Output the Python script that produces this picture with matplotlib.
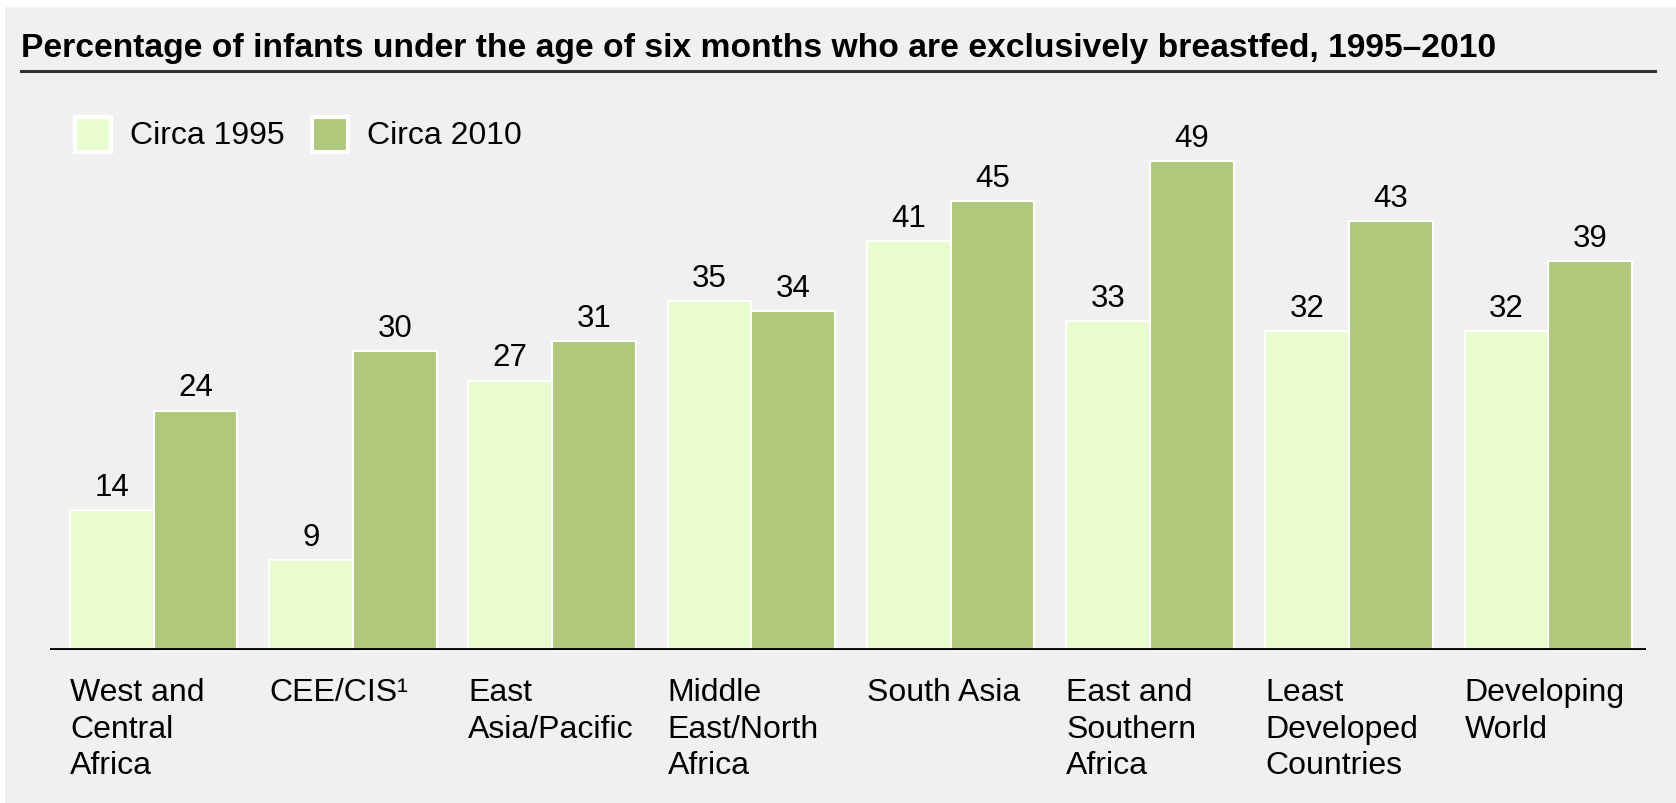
import numpy as np
import matplotlib
matplotlib.use("Agg")
import matplotlib.pyplot as plt
from matplotlib.patches import Rectangle
from matplotlib.lines import Line2D

plt.rcParams['font.family'] = ['Liberation Sans', 'DejaVu Sans']

regions = ["West and\nCentral\nAfrica", "CEE/CIS\u00b9", "East\nAsia/Pacific",
           "Middle\nEast/North\nAfrica", "South Asia", "East and\nSouthern\nAfrica",
           "Least\nDeveloped\nCountries", "Developing\nWorld"]
circa_1995 = [14, 9, 27, 35, 41, 33, 32, 32]
circa_2010 = [24, 30, 31, 34, 45, 49, 43, 39]
series_names = ["Circa 1995", "Circa 2010"]
title = "Percentage of infants under the age of six months who are exclusively breastfed, 1995\u20132010"

light = "#e8fcd0"
dark = "#b0c87c"
panel = "#f0f0f0"

W, H = 1676, 804


def fx(px):
    return px / W


def fy(py):
    return 1 - py / H


fig = plt.figure(figsize=(W / 100, H / 100), dpi=100, facecolor="white")
fig.add_artist(Rectangle((fx(5), 0), 1 - fx(5), fy(8), transform=fig.transFigure,
                         facecolor=panel, edgecolor="none", zorder=0))

# title and rule under it
fig.text(fx(21), fy(49), title, fontsize=24.2, fontweight="bold", va="center", ha="left")
fig.add_artist(Line2D([fx(21), fx(1655)], [fy(72), fy(72)], color="#333333", lw=2.2,
                      transform=fig.transFigure))

ax = fig.add_axes([fx(50), fy(651), fx(1646) - fx(50), fy(130) - fy(651)])
ax.set_facecolor("none")
for s in ax.spines.values():
    s.set_visible(False)
ax.set_xticks([])
ax.set_yticks([])

x = np.arange(len(regions))
bw = 0.42
b1 = ax.bar(x - bw / 2, circa_1995, bw, color=light, edgecolor="white", linewidth=1.5)
b2 = ax.bar(x + bw / 2, circa_2010, bw, color=dark, edgecolor="white", linewidth=1.5)
ax.set_xlim(-0.52, 7.49)
ax.set_ylim(0, 52.25)
ax.axhline(0, color="black", lw=3.5, zorder=5)

for bars, vals in ((b1, circa_1995), (b2, circa_2010)):
    for rect, v in zip(bars, vals):
        ax.annotate(str(v), (rect.get_x() + rect.get_width() / 2, v),
                    xytext=(0, 6), textcoords="offset points",
                    ha="center", va="bottom", fontsize=22.5)

for xi, lab in zip(x, regions):
    ax.text(xi - bw, -2.75, lab, ha="left", va="top", fontsize=23,
            linespacing=1.27, clip_on=False)

# legend
for px, col, name in ((75, light, series_names[0]), (312, dark, series_names[1])):
    fig.add_artist(Rectangle((fx(px), fy(153)), fx(36), fy(118) - fy(153),
                             transform=fig.transFigure, facecolor=col,
                             edgecolor="white", lw=3))
    fig.text(fx(px + 55), fy(136), name, fontsize=23, va="center", ha="left")

fig.savefig("out.png", dpi=100, facecolor=fig.get_facecolor())
